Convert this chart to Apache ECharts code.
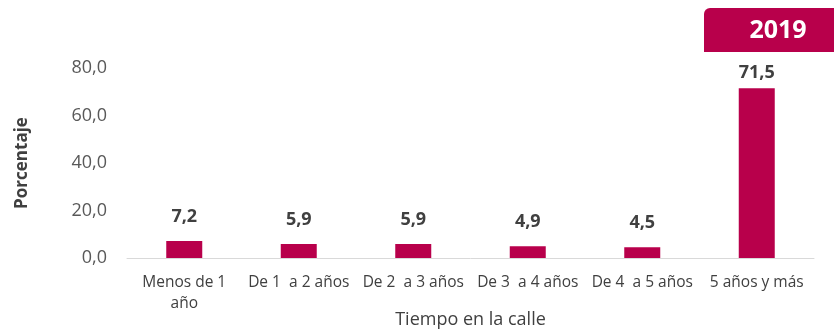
<!DOCTYPE html>
<html>
<head>
<meta charset="utf-8">
<script src="https://cdn.jsdelivr.net/npm/echarts@6/dist/echarts.min.js"></script>
<style>
  html, body { margin: 0; padding: 0; background: #fff; }
  #chart { width: 834px; height: 331px; }
</style>
</head>
<body>
<div id="chart"></div>
<script>
// Tiempo en la calle (2019), porcentaje por categoría
const categories = ['Menos de 1 año', 'De 1  a 2 años', 'De 2  a 3 años', 'De 3  a 4 años', 'De 4  a 5 años', '5 años y más'];
const values = [7.2, 5.9, 5.9, 4.9, 4.5, 71.5];
const yTicks = [0, 20, 40, 60, 80];
const yearLabel = '2019';

const FONT = '"Open Sans", "Noto Sans", sans-serif';
const BAR = '#b8004b';
const fmt = v => v.toFixed(1).replace('.', ',');

const chart = echarts.init(document.getElementById('chart'), null, { renderer: 'canvas' });
chart.setOption({
  animation: false,
  textStyle: { fontFamily: FONT },
  grid: { left: 127, right: 20, top: 68, bottom: 73, containLabel: false, outerBoundsMode: 'none' },
  xAxis: {
    type: 'category',
    data: categories,
    name: 'Tiempo en la calle',
    nameLocation: 'middle',
    nameGap: 53,
    nameMoveOverlap: false,
    nameTextStyle: { fontSize: 18, color: '#404040', fontFamily: FONT },
    axisLine: { lineStyle: { color: '#d9d9d9', width: 1 } },
    axisTick: { show: false },
    axisLabel: {
      interval: 0,
      margin: 14,
      fontSize: 15.5,
      color: '#404040',
      lineHeight: 21,
      formatter: s => s === 'Menos de 1 año' ? 'Menos de 1\naño' : s
    }
  },
  yAxis: {
    type: 'value',
    min: yTicks[0],
    max: yTicks[yTicks.length - 1],
    interval: yTicks[1] - yTicks[0],
    name: 'Porcentaje',
    nameLocation: 'middle',
    nameGap: 96,
    nameMoveOverlap: false,
    nameRotate: 90,
    nameTextStyle: { fontSize: 17, fontWeight: 'bold', color: '#404040', fontFamily: FONT },
    splitLine: { show: false },
    axisLine: { show: false },
    axisTick: { show: false },
    axisLabel: { fontSize: 18, color: '#595959', margin: 20, formatter: v => fmt(v) }
  },
  series: [{
    type: 'bar',
    data: values.map(v => ({
      value: v,
      label: { distance: v > 50 ? 6 : 15 }
    })),
    barWidth: 36,
    itemStyle: { color: BAR },
    label: {
      show: true,
      position: 'top',
      fontSize: 18,
      fontWeight: 'bold',
      color: '#404040',
      formatter: p => fmt(p.value)
    }
  }],
  graphic: [{
    type: 'group',
    left: 704,
    top: 8,
    children: [
      { type: 'rect', shape: { x: 0, y: 0, width: 140, height: 44, r: [6, 0, 0, 0] }, style: { fill: BAR } },
      { type: 'text', x: 74, y: 23, style: { text: yearLabel, fill: '#fff', font: 'bold 25px ' + FONT, align: 'center', verticalAlign: 'middle' } }
    ]
  }]
});
</script>
</body>
</html>
